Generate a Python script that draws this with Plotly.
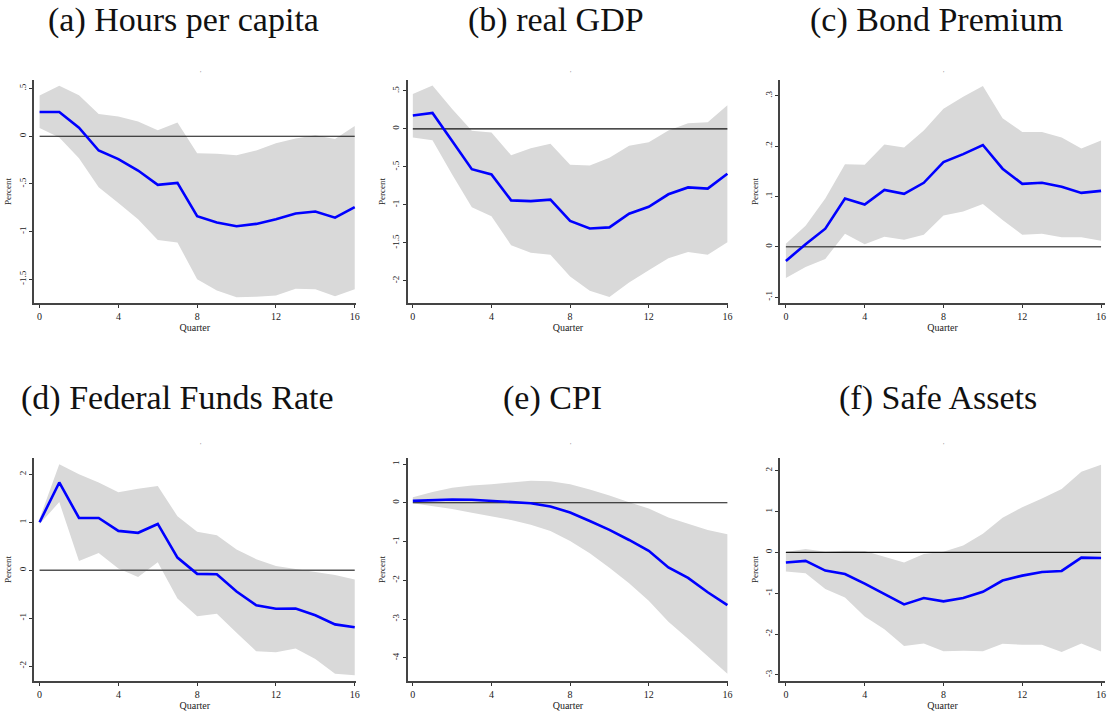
import plotly.graph_objects as go

QUARTERS = list(range(17))

TITLES = [
    "(a) Hours per capita",
    "(b) real GDP",
    "(c) Bond Premium",
    "(d) Federal Funds Rate",
    "(e) CPI",
    "(f) Safe Assets",
]

# impulse responses and 90% bands
HOURS_IRF = [0.255, 0.255, 0.09, -0.15, -0.24, -0.36, -0.51, -0.49, -0.84, -0.905,
             -0.944, -0.92, -0.87, -0.81, -0.79, -0.855, -0.745]
HOURS_HI = [0.427, 0.53, 0.43, 0.234, 0.206, 0.154, 0.063, 0.143, -0.178, -0.185,
            -0.2, -0.15, -0.073, -0.024, 0.01, -0.028, 0.108]
HOURS_LO = [0.087, -0.014, -0.23, -0.535, -0.70, -0.87, -1.09, -1.115, -1.5, -1.62,
            -1.69, -1.685, -1.67, -1.60, -1.605, -1.68, -1.605]

GDP_IRF = [0.175, 0.21, -0.16, -0.53, -0.60, -0.94, -0.95, -0.93, -1.21, -1.31,
           -1.295, -1.115, -1.025, -0.86, -0.77, -0.785, -0.59]
GDP_HI = [0.46, 0.57, 0.26, -0.026, -0.048, -0.346, -0.254, -0.197, -0.473, -0.48,
          -0.38, -0.223, -0.175, -0.022, 0.074, 0.088, 0.31]
GDP_LO = [-0.114, -0.149, -0.60, -1.03, -1.15, -1.53, -1.63, -1.655, -1.94, -2.13,
          -2.21, -2.02, -1.86, -1.70, -1.62, -1.655, -1.49]

BOND_IRF = [-0.028, 0.005, 0.036, 0.096, 0.084, 0.113, 0.105, 0.127, 0.168, 0.184,
            0.202, 0.155, 0.125, 0.127, 0.119, 0.107, 0.111]
BOND_HI = [0.006, 0.042, 0.096, 0.164, 0.163, 0.203, 0.197, 0.231, 0.274, 0.298,
           0.319, 0.255, 0.228, 0.228, 0.217, 0.195, 0.211]
BOND_LO = [-0.062, -0.040, -0.024, 0.026, 0.005, 0.020, 0.014, 0.024, 0.062, 0.070,
           0.085, 0.053, 0.024, 0.026, 0.019, 0.019, 0.012]

FFR_IRF = [1.0, 1.83, 1.09, 1.09, 0.82, 0.78, 0.965, 0.264, -0.076, -0.083,
           -0.444, -0.73, -0.805, -0.80, -0.94, -1.13, -1.19]
FFR_HI = [1.076, 2.21, 2.0, 1.83, 1.625, 1.70, 1.757, 1.125, 0.80, 0.73,
          0.43, 0.23, 0.09, 0.035, -0.035, -0.10, -0.194]
FFR_LO = [0.965, 1.42, 0.19, 0.36, 0.035, -0.14, 0.167, -0.59, -0.96, -0.91,
          -1.305, -1.69, -1.71, -1.63, -1.85, -2.16, -2.19]

CPI_IRF = [0.05, 0.077, 0.085, 0.077, 0.05, 0.026, -0.01, -0.094, -0.25, -0.47,
           -0.70, -0.96, -1.24, -1.67, -1.94, -2.31, -2.64]
CPI_HI = [0.146, 0.28, 0.385, 0.445, 0.48, 0.53, 0.57, 0.556, 0.48, 0.34,
          0.19, 0.017, -0.146, -0.377, -0.53, -0.70, -0.81]
CPI_LO = [-0.01, -0.077, -0.163, -0.257, -0.35, -0.445, -0.565, -0.73, -0.985, -1.30,
          -1.68, -2.08, -2.53, -3.07, -3.51, -3.97, -4.41]

SAFE_IRF = [-0.25, -0.21, -0.447, -0.53, -0.764, -1.01, -1.276, -1.12, -1.20, -1.12,
            -0.967, -0.69, -0.57, -0.48, -0.455, -0.13, -0.138]
SAFE_HI = [0.008, 0.08, 0.016, 0.04, 0.03, -0.114, -0.25, -0.04, 0.016, 0.17,
           0.455, 0.845, 1.106, 1.317, 1.553, 1.976, 2.146]
SAFE_LO = [-0.47, -0.51, -0.90, -1.105, -1.57, -1.88, -2.29, -2.23, -2.42, -2.41,
           -2.42, -2.24, -2.26, -2.26, -2.44, -2.23, -2.43]

IRFS = [HOURS_IRF, GDP_IRF, BOND_IRF, FFR_IRF, CPI_IRF, SAFE_IRF]
UPPER = [HOURS_HI, GDP_HI, BOND_HI, FFR_HI, CPI_HI, SAFE_HI]
LOWER = [HOURS_LO, GDP_LO, BOND_LO, FFR_LO, CPI_LO, SAFE_LO]

Y_TICKS = [
    [0.5, 0, -0.5, -1, -1.5],
    [0.5, 0, -0.5, -1, -1.5, -2],
    [0.3, 0.2, 0.1, 0, -0.1],
    [2, 1, 0, -1, -2],
    [1, 0, -1, -2, -3, -4],
    [2, 1, 0, -1, -2, -3],
]
Y_LABELS = [
    [".5", "0", "-.5", "-1", "-1.5"],
    [".5", "0", "-.5", "-1", "-1.5", "-2"],
    [".3", ".2", ".1", "0", "-.1"],
    ["2", "1", "0", "-1", "-2"],
    ["1", "0", "-1", "-2", "-3", "-4"],
    ["2", "1", "0", "-1", "-2", "-3"],
]
Y_RANGES = [(-1.75, 0.59), (-2.29, 0.643), (-0.1115, 0.331),
            (-2.31, 2.34), (-4.6, 1.156), (-3.15, 2.31)]

W, H = 1109, 711
# pixel boxes of each plot area (left, right) and (top, bottom)
X_BOXES = [(34, 357), (409, 731), (783, 1109)]
X_RANGES = [(-0.29, 16.05), (-0.27, 16.05), (-0.29, 16.2)]
Y_BOXES = [(80, 303), (458, 681)]
TITLE_X = [184, 558, 940, 178, 554, 941]
TITLE_Y = [20, 398]

SERIF = "Liberation Serif"

fig = go.Figure()
layout = {}
annotations = []

for i in range(6):
    row, col = divmod(i, 3)
    ax = "" if i == 0 else str(i + 1)
    xa, ya = "x" + ax, "y" + ax
    zero = [0 for _ in QUARTERS]
    zcol, zw = ("#555555", 1.6) if i in (2, 3) else ("#111111", 1.1)

    fig.add_trace(go.Scatter(x=QUARTERS, y=LOWER[i], mode="lines", line=dict(width=0),
                             hoverinfo="skip", showlegend=False, xaxis=xa, yaxis=ya))
    fig.add_trace(go.Scatter(x=QUARTERS, y=UPPER[i], mode="lines", line=dict(width=0),
                             fill="tonexty", fillcolor="#d9d9d9", hoverinfo="skip",
                             showlegend=False, xaxis=xa, yaxis=ya))
    fig.add_trace(go.Scatter(x=QUARTERS, y=zero, mode="lines",
                             line=dict(color=zcol, width=zw),
                             showlegend=False, xaxis=xa, yaxis=ya))
    fig.add_trace(go.Scatter(x=QUARTERS, y=IRFS[i], mode="lines",
                             line=dict(color="#0000ff", width=2.6),
                             showlegend=False, xaxis=xa, yaxis=ya))

    x0, x1 = X_BOXES[col]
    top, bot = Y_BOXES[row]
    layout["xaxis" + ax] = dict(
        domain=[x0 / W, x1 / W], range=list(X_RANGES[col]), anchor=ya,
        tickvals=[0, 4, 8, 12, 16], ticks="outside", ticklen=3, tickwidth=1,
        tickcolor="#333", showline=True, linecolor="#444", linewidth=1.5,
        showgrid=False, zeroline=False,
        tickfont=dict(family=SERIF, size=10, color="#222"),
        title=dict(text="Quarter", standoff=0,
                   font=dict(family=SERIF, size=10, color="#222")),
    )
    layout["yaxis" + ax] = dict(
        domain=[1 - bot / H, 1 - top / H], range=list(Y_RANGES[i]), anchor=xa,
        tickvals=Y_TICKS[i], ticktext=Y_LABELS[i], tickangle=-90,
        ticks="outside", ticklen=3, tickwidth=1, tickcolor="#333",
        showline=True, linecolor="#444", linewidth=1.5,
        showgrid=False, zeroline=False,
        tickfont=dict(family=SERIF, size=9, color="#222"),
        title=dict(text="Percent", standoff=4,
                   font=dict(family=SERIF, size=9, color="#222")),
    )

    annotations.append(dict(
        text=TITLES[i], x=TITLE_X[i] / W, y=1 - TITLE_Y[row] / H,
        xref="paper", yref="paper", showarrow=False, xanchor="center",
        yanchor="middle", font=dict(family=SERIF, size=34, color="#111"),
    ))
    # stray mark left by the empty graph title
    annotations.append(dict(
        text="'", x=((x0 + x1) / 2 + 3) / W, y=1 - (top - 13) / H,
        xref="paper", yref="paper", showarrow=False,
        font=dict(family=SERIF, size=7, color="#777"),
    ))

fig.update_layout(
    width=W, height=H,
    margin=dict(l=0, r=0, t=0, b=0),
    plot_bgcolor="white", paper_bgcolor="white",
    annotations=annotations,
    **layout,
)

fig.write_html("out.html", config={"displayModeBar": False},
               post_script="document.body.style.margin='0';")
